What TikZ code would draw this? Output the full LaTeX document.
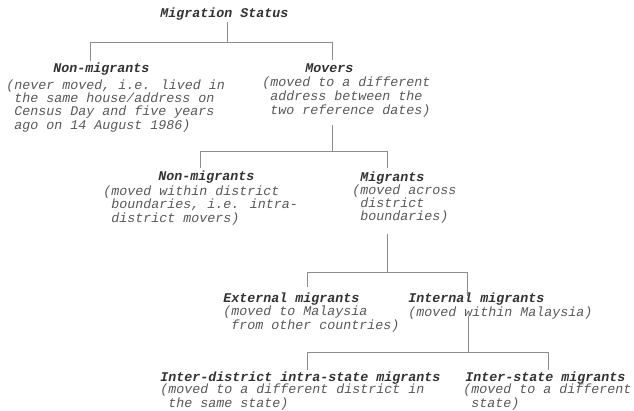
\documentclass[tikz,border=0pt]{standalone}
\usepackage{fontspec}
\setmonofont{Liberation Mono}
\newfontfamily\monoit{Liberation Mono Italic}
\newfontfamily\monobi{Liberation Mono Bold Italic}
\tikzset{
  head/.style={anchor=base west, inner sep=0pt, text=black!80, font={\monobi\fontsize{10}{10}\selectfont}},
  desc/.style={anchor=base west, inner sep=0pt, align=left, text=black!65, font={\monoit\fontsize{10}{#1}\selectfont}},
  desc/.default=9.6,
  link/.style={draw=black!45, line width=0.6pt}
}
\newcommand{\ind}{\phantom{(}}
\begin{document}
\begin{tikzpicture}[x=0.75pt,y=-0.75pt]
\useasboundingbox (0,0) rectangle (634,410);
\fill[white] (0,0) rectangle (634,410);
% level 0 (multi-line nodes are placed by the baseline of their last line)
\node[head] (ms) at (160,18) {Migration Status};
% level 1
\node[head] (nm1) at (53,72) {Non-migrants};
\node[desc=10] (nm1d) at (6,129) {(never moved, i.e. lived in\\\ind the same house/address on\\\ind Census Day and five years\\\ind ago on 14 August 1986)};
\node[head] (mv) at (305,72) {Movers};
\node[desc=10.2] (mvd) at (262,114) {(moved to a different\\\ind address between the\\\ind two reference dates)};
% level 2
\node[head] (nm2) at (158,180) {Non-migrants};
\node[desc=10.1] (nm2d) at (103,222) {(moved within district\\\ind boundaries, i.e. intra-\\\ind district movers)};
\node[head] (mg) at (360,181) {Migrants};
\node[desc=9.5] (mgd) at (352,220) {(moved across\\\ind district\\\ind boundaries)};
% level 3
\node[head] (ext) at (223,302) {External migrants};
\node[desc=9.8] (extd) at (223,329) {(moved to Malaysia\\\ind from other countries)};
\node[head] (int) at (408,302) {Internal migrants};
\node[desc] (intd) at (408,316) {(moved within Malaysia)};
% level 4
\node[head] (ids) at (160,381) {Inter-district intra-state migrants};
\node[desc=9.2] (idsd) at (160,407) {(moved to a different district in\\\ind the same state)};
\node[head] (ist) at (465,381) {Inter-state migrants};
\node[desc=9.2] (istd) at (463,407) {(moved to a different\\\ind state)};
% connectors
\coordinate (j0) at (227,42);
\draw[link] (227,22) coordinate (ms-s) -- (j0);
\draw[link] (90,61) coordinate (t1a) -- (90,42) -- (332,42) -- (332,60) coordinate (t1b);
\coordinate (j1) at (332,151);
\draw[link] (332,125) coordinate (mv-s) -- (j1);
\draw[link] (200,168) coordinate (t2a) -- (200,151) -- (387,151) -- (387,168) coordinate (t2b);
\coordinate (j2) at (387,272);
\draw[link] (387,234) coordinate (mg-s) -- (j2);
\draw[link] (307,287) coordinate (t3a) -- (307,272) -- (467,272) -- (467,296) coordinate (t3b);
\coordinate (j3) at (468,352);
\draw[link] (468,316) coordinate (int-s) -- (j3);
\draw[link] (307,370) coordinate (t4a) -- (307,352) -- (548,352) -- (548,370) coordinate (t4b);
\end{tikzpicture}
\end{document}
